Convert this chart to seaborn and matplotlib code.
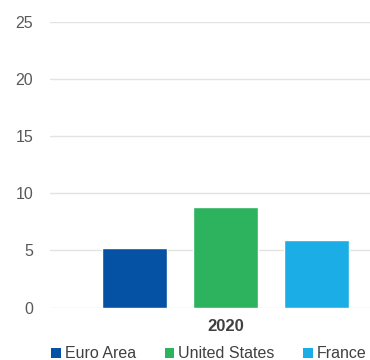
import matplotlib
matplotlib.use("Agg")
import matplotlib.pyplot as plt
import seaborn as sns
import pandas as pd
from matplotlib.patches import Patch

years = ["2020"]
series = ["Euro Area", "United States", "France"]
values = [5.2, 8.8, 5.9]
colors = ["#0552A4", "#2DB35E", "#1BAEE6"]
yticks = [0, 5, 10, 15, 20, 25]

df = pd.DataFrame({"year": years * len(series), "series": series, "value": values})

sns.set_theme(style="white")
plt.rcParams['font.family'] = ['Liberation Sans', 'DejaVu Sans']

fig = plt.figure(figsize=(3.7, 3.6), dpi=100)
W, H = 370, 360
x0, x1 = 50, 401
y0, y1 = 307.5, 22
ax = fig.add_axes([x0 / W, 1 - y0 / H, (x1 - x0) / W, (y0 - y1) / H])

sns.barplot(data=df, x="year", y="value", hue="series", palette=colors,
            hue_order=series, width=0.78, gap=0.286, ax=ax, legend=False,
            saturation=1, errorbar=None)

ax.set_ylim(0, 25)
ax.set_xlim(-0.5, 0.5)
ax.set_yticks(yticks)
ax.set_yticklabels([str(t) for t in yticks], fontsize=11.5, color="#595959")
ax.tick_params(axis="y", length=0, pad=12)
ax.tick_params(axis="x", length=0, pad=8)
for lbl in ax.get_xticklabels():
    lbl.set_fontweight("bold")
    lbl.set_fontsize(12)
    lbl.set_color("#404040")
ax.set_xlabel("")
ax.set_ylabel("")
ax.grid(axis="y", color="#E3E3E3", linewidth=1)
ax.set_axisbelow(True)
for s in ax.spines.values():
    s.set_visible(False)

handles = [Patch(facecolor=c, edgecolor="none") for c in colors]
fig.legend(handles, series, loc="center", bbox_to_anchor=(209 / W, 1 - 354 / H),
           ncol=3, frameon=False, fontsize=11.5, handlelength=0.6, handleheight=0.6,
           handletextpad=0.25, columnspacing=1.8, labelcolor="#404040",
           borderpad=0, borderaxespad=0)

fig.savefig("out.png", dpi=100, facecolor="white")
